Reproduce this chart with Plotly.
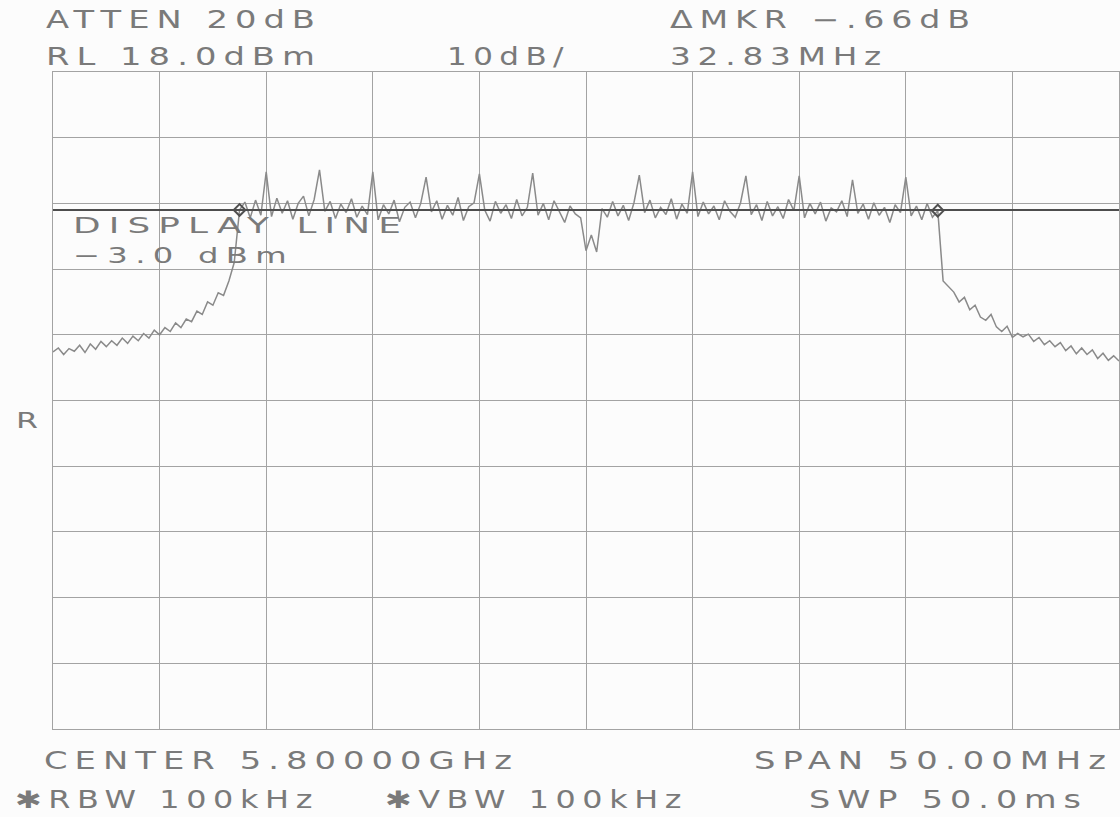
import json
import numpy as np
import plotly.graph_objects as go

# ---------------- data ----------------
CENTER_MHZ = 5800.0
SPAN_MHZ = 50.0
REF_LEVEL_DBM = 18.0
DB_PER_DIV = 10.0
DISPLAY_LINE_DBM = -3.0

# trace level (dBm), one value per 0.25 MHz from 5775 to 5825 MHz
LEVEL_LEFT = [-24.6, -24.0, -25.0, -24.1, -24.5, -23.6, -24.7, -23.4, -24.2, -23.0,
              -23.8, -22.9, -23.6, -22.5, -23.3, -22.2, -22.9, -21.8, -22.5, -21.3,
              -22.0, -20.9, -21.5, -20.2, -20.9, -19.6, -20.0, -18.4, -18.9, -17.0,
              -17.5, -15.6, -16.0, -13.8, -11.0]
LEVEL_BAND = [-3.0, -1.8, -4.2, -1.5, -3.8, 2.8, -4.0, -1.2, -3.5, -1.6,
              -4.4, -2.0, -0.9, -3.9, -1.4, 3.1, -3.2, -1.7, -4.3, -2.1,
              -3.4, -1.3, -4.1, -2.4, -3.7, 2.8, -4.5, -2.2, -3.6, -1.5,
              -4.8, -2.6, -1.8, -4.2, -2.0, 2.0, -3.3, -1.6, -4.4, -2.3,
              -3.8, -1.1, -4.6, -2.5, -1.9, 2.5, -3.0, -4.7, -1.7, -3.5,
              -2.2, -4.3, -1.4, -3.9, -2.6, 2.6, -3.8, -2.0, -4.5, -1.6,
              -3.3, -4.9, -2.4, -3.6, -4.2, -9.2, -6.8, -9.4, -2.8, -4.1,
              -1.7, -3.9, -2.3, -4.6, -1.9, 2.3, -3.4, -1.5, -4.2, -2.6,
              -3.7, -1.3, -4.4, -2.1, -3.5, 2.8, -4.0, -1.8, -3.6, -2.4,
              -4.5, -1.6, -3.2, -4.1, -1.9, 2.2, -3.7, -2.2, -4.6, -1.7,
              -3.9, -2.5, -4.3, -1.4, -3.1, 2.2, -4.2, -2.0, -3.6, -1.8,
              -4.7, -2.7, -3.3, -1.6, -4.0, 1.6, -3.5, -2.1, -4.4, -1.9,
              -3.8, -2.6, -4.9, -2.2, -3.4, 2.0, -3.9, -2.4, -4.5, -2.0,
              -4.1, -3.1]
LEVEL_RIGHT = [-13.8, -14.6, -15.5, -17.0, -16.3, -18.2, -17.5, -19.3, -19.8, -18.9,
               -20.8, -21.5, -20.7, -22.4, -21.8, -22.3, -21.9, -23.0, -22.4, -23.5,
               -22.9, -23.8, -23.2, -24.4, -23.7, -24.9, -24.0, -25.0, -24.3, -25.6,
               -24.8, -25.9, -25.2, -26.0]

MARKER_FREQ_MHZ = [5783.75, 5816.5]
MARKER_LEVEL_DBM = [-3.0, -3.1]

HEADER_TEXTS = ["ATTEN 20dB", "RL 18.0dBm", "10dB/", "\u0394MKR \u2212.66dB", "32.83MHz"]
INNER_TEXTS = ["DISPLAY LINE", "\u22123.0 dBm", "R"]
FOOTER_TEXTS = ["CENTER 5.80000GHz", "SPAN 50.00MHz", "\u2731RBW 100kHz", "\u2731VBW 100kHz", "SWP 50.0ms"]

# ---------------- layout geometry (pixels) ----------------
W, H = 1120, 817
L, R, T, B = 53, 1, 72, 88
PW, PH = W - L - R, H - T - B

# (left x, centre y, font size, rendered width)
HEADER_POS = [(45, 20, 24, 276), (45, 57, 24, 276), (446, 57, 24, 123), (669, 20, 24, 307), (669, 57, 24, 218)]
INNER_POS = [(72, 225, 22, 336), (72, 255, 22, 221), (15, 420, 22, 22)]
FOOTER_POS = [(43, 761, 24, 475), (753, 761, 24, 359), (14, 800, 24, 304), (384, 800, 24, 303), (808, 800, 24, 279)]

level = LEVEL_LEFT + LEVEL_BAND + LEVEL_RIGHT
f_start = CENTER_MHZ - SPAN_MHZ / 2
f_stop = CENTER_MHZ + SPAN_MHZ / 2
freq = np.linspace(f_start, f_stop, len(level))

y_top = REF_LEVEL_DBM
y_bot = REF_LEVEL_DBM - 10 * DB_PER_DIV

TEXT_COLOR = "#7a7a7a"
GRID_COLOR = "#a3a3a3"

fig = go.Figure()
fig.add_trace(go.Scatter(x=freq, y=level, mode="lines",
                         line=dict(color="#8a8a8a", width=1.5), hoverinfo="skip", showlegend=False))
fig.add_trace(go.Scatter(x=MARKER_FREQ_MHZ, y=MARKER_LEVEL_DBM, mode="markers",
                         marker=dict(symbol="diamond-open", size=9, color="#505050", line=dict(width=2)),
                         hoverinfo="skip", showlegend=False))

fig.add_shape(type="line", xref="paper", x0=0, x1=1, yref="y", y0=DISPLAY_LINE_DBM, y1=DISPLAY_LINE_DBM,
              line=dict(color="#4d4d4d", width=2))

annotations = []
widths = {}
for texts, poses in ((HEADER_TEXTS, HEADER_POS), (INNER_TEXTS, INNER_POS), (FOOTER_TEXTS, FOOTER_POS)):
    for txt, (px, py, fs, w) in zip(texts, poses):
        annotations.append(dict(
            text=txt, xref="paper", yref="paper",
            x=(px - L) / PW, y=(H - B - py) / PH,
            xanchor="left", yanchor="middle", align="left", showarrow=False,
            borderpad=0,
            font=dict(family="DejaVu Sans", size=fs, color=TEXT_COLOR)))
        widths[txt] = w

fig.update_layout(
    width=W, height=H, autosize=False,
    margin=dict(l=L, r=R, t=T, b=B, pad=0),
    paper_bgcolor="#fcfcfc", plot_bgcolor="#fcfcfc",
    annotations=annotations,
    xaxis=dict(range=[f_start, f_stop], tick0=f_start, dtick=SPAN_MHZ / 10, showticklabels=False,
               showgrid=True, gridcolor=GRID_COLOR, gridwidth=1, zeroline=False,
               showline=True, mirror=True, linecolor=GRID_COLOR, linewidth=1, ticks="", fixedrange=True),
    yaxis=dict(range=[y_bot, y_top], tick0=y_top, dtick=DB_PER_DIV, showticklabels=False,
               showgrid=True, gridcolor=GRID_COLOR, gridwidth=1, zeroline=False,
               showline=True, mirror=True, linecolor=GRID_COLOR, linewidth=1, ticks="", fixedrange=True),
)

# widen the plotter-style lettering: some extra tracking, then stretch glyphs+spacing to the measured width
post_script = """
var W = %s;
document.querySelectorAll('text.annotation-text').forEach(function(t){
  var s = t.textContent;
  if (W[s]) {
    t.style.letterSpacing = (s.length > 1 ? '5px' : '0px');
    t.setAttribute('textLength', W[s]);
    t.setAttribute('lengthAdjust', 'spacingAndGlyphs');
  }
});
""" % json.dumps(widths)

fig.write_html("out.html", config={"displayModeBar": False, "responsive": False}, post_script=post_script)
